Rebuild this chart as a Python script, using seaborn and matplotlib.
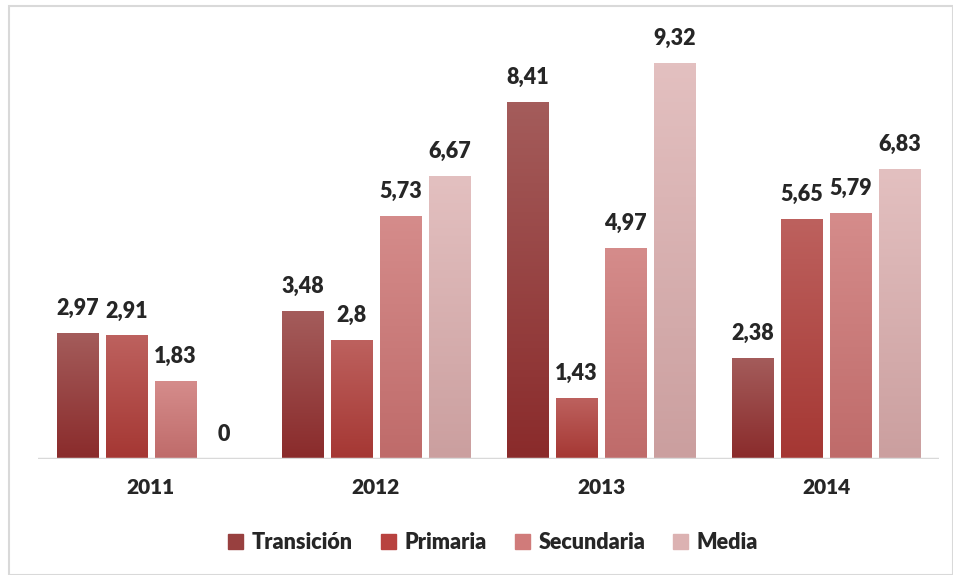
import pandas as pd
import numpy as np
import matplotlib.pyplot as plt
import matplotlib.colors as mcolors
import seaborn as sns

# data
years = ["2011", "2012", "2013", "2014"]
niveles = ["Transición", "Primaria", "Secundaria", "Media"]
transicion = [2.97, 3.48, 8.41, 2.38]
primaria = [2.91, 2.80, 1.43, 5.65]
secundaria = [1.83, 5.73, 4.97, 5.79]
media = [0.0, 6.67, 9.32, 6.83]

# gradient colours (top, bottom) per series
colors = ["#98403f", "#b8423f", "#d07b7a", "#dcb2b2"]
grad = [("#a45c5b", "#8a2b2b"), ("#bd615e", "#a53733"),
        ("#d58c8b", "#bf6b6a"), ("#e3c0c0", "#cb9f9f")]

df = pd.DataFrame({
    "year": years * 4,
    "nivel": [n for n in niveles for _ in years],
    "value": transicion + primaria + secundaria + media,
})

sns.set_style("white")
plt.rcParams['font.family'] = ['Lato', 'DejaVu Sans']

fig = plt.figure(figsize=(9.54, 5.75), dpi=100)
ax = fig.add_axes([0.040, 0.2017, 0.944, 0.739])
sns.barplot(data=df, x="year", y="value", hue="nivel", hue_order=niveles,
            palette=colors, width=0.87, gap=0.16, ax=ax, legend=False,
            saturation=1)

# gradient fill on each bar, plus labels
for cont, (top, bot) in zip(ax.containers, grad):
    cmap = mcolors.LinearSegmentedColormap.from_list("g", [bot, top])
    for bar in cont:
        x0, y0 = bar.get_x(), bar.get_y()
        w, h = bar.get_width(), bar.get_height()
        if h > 0:
            img = ax.imshow(np.linspace(0, 1, 100).reshape(-1, 1), cmap=cmap,
                            extent=[x0, x0 + w, y0, y0 + h], origin="lower",
                            aspect="auto", zorder=bar.get_zorder())
            img.set_clip_path(bar)
        txt = f"{h:.2f}".rstrip("0").rstrip(",.").replace(".", ",")
        if h == 0:
            txt = "0"
        ax.annotate(txt, (x0 + w / 2, h), xytext=(0, 10), textcoords="offset points",
                    ha="center", va="bottom", fontsize=15.5, fontweight="heavy")

ax.set_xlim(-0.5, 3.5)
ax.set_ylim(0, 10)
ax.set_xlabel("")
ax.set_ylabel("")
ax.set_yticks([])
ax.tick_params(axis="x", length=0, pad=14, labelsize=15)
for lbl in ax.get_xticklabels():
    lbl.set_fontweight("heavy")
for s in ["top", "right", "left", "bottom"]:
    ax.spines[s].set_visible(False)
ax.axhline(0, color="#d9d9d9", lw=2.5, zorder=5)

handles = [plt.Rectangle((0, 0), 1, 1, color=c) for c in colors]
fig.legend(handles, niveles, loc="center", bbox_to_anchor=(0.517, 0.056), ncol=4,
           frameon=False, prop={"size": 15.5, "weight": "heavy"},
           handlelength=0.7, handleheight=0.7, handletextpad=0.4, columnspacing=1.3)

# outer frame
fig.patches.append(plt.Rectangle((0.009, 0.0), 0.99, 0.99, transform=fig.transFigure,
                                 fill=False, edgecolor="#d9d9d9", lw=1.5))

fig.savefig("out.png", dpi=100)
